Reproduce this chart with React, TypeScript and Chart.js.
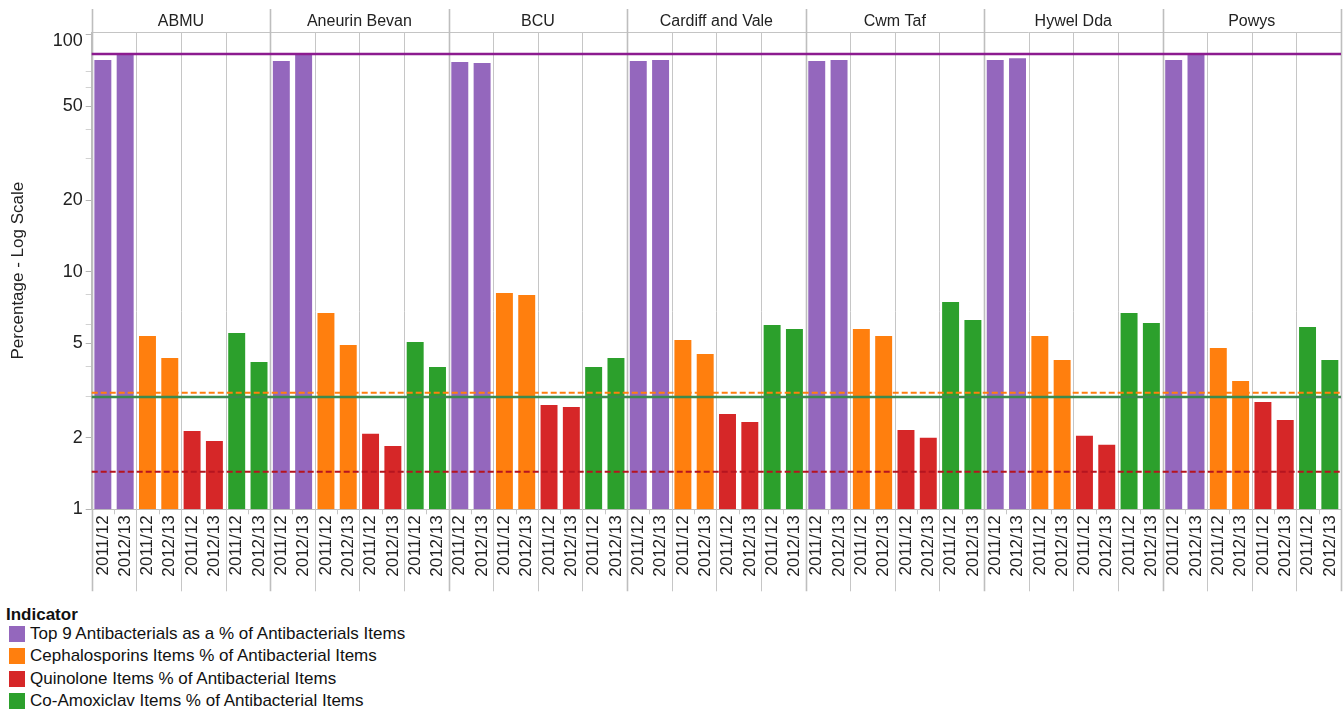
import React, { useEffect, useRef } from 'react';
import { Chart, registerables } from 'chart.js';

Chart.register(...registerables);

const FONT = '"Liberation Sans", Arial, Helvetica, sans-serif';
Chart.defaults.font.family = FONT;

// Health boards (panels) and financial years (bars within each indicator)
const boards = ['ABMU', 'Aneurin Bevan', 'BCU', 'Cardiff and Vale', 'Cwm Taf', 'Hywel Dda', 'Powys'];
const years = ['2011/12', '2012/13'];
const indicators = [
  'Top 9 Antibacterials as a % of Antibacterials Items',
  'Cephalosporins Items % of Antibacterial Items',
  'Quinolone Items % of Antibacterial Items',
  'Co-Amoxiclav Items % of Antibacterial Items',
];

// Values per board, in the order of `boards`
const top9_2011 = [78.2, 77.5, 76.7, 77.5, 77.5, 78.2, 78.2];
const top9_2012 = [82.6, 82.7, 76.0, 78.2, 78.2, 79.6, 82.7];
const cephalosporins_2011 = [5.37, 6.72, 8.15, 5.17, 5.75, 5.37, 4.78];
const cephalosporins_2012 = [4.34, 4.92, 8.0, 4.51, 5.37, 4.26, 3.47];
const quinolone_2011 = [2.14, 2.08, 2.75, 2.52, 2.16, 2.04, 2.83];
const quinolone_2012 = [1.94, 1.85, 2.7, 2.33, 2.0, 1.87, 2.38];
const coAmoxiclav_2011 = [5.53, 5.07, 3.98, 5.98, 7.47, 6.72, 5.86];
const coAmoxiclav_2012 = [4.18, 3.98, 4.34, 5.75, 6.28, 6.1, 4.26];

// All-Wales reference values, one per indicator
const referenceValues = [82.8, 3.1, 2.97, 1.44];

// Log axis ticks: all tick marks, and the ones that carry a label
const yTickValues = [1, 2, 3, 4, 5, 6, 8, 10, 20, 30, 40, 50, 60, 70, 100];
const yTickLabels = [1, 2, 5, 10, 20, 50, 100];

const seriesByIndicator = [
  [top9_2011, top9_2012],
  [cephalosporins_2011, cephalosporins_2012],
  [quinolone_2011, quinolone_2012],
  [coAmoxiclav_2011, coAmoxiclav_2012],
];

const barColors = ['#9467BD', '#FF7F0E', '#D62728', '#2CA02C'];
const referenceStyles = [
  { color: '#8C1B8F', width: 2.5, dash: [] as number[] },
  { color: '#FF7F0E', width: 2, dash: [6, 3] },
  { color: '#3B8A4E', width: 2.5, dash: [] as number[] },
  { color: '#B5141F', width: 2, dash: [6, 3] },
];

const slotsPerBoard = indicators.length * years.length;
const categoryLabels = boards.flatMap(() => indicators.flatMap(() => years));
const topTick = yTickLabels[yTickLabels.length - 1];

const datasets = indicators.map((name, k) => ({
  label: name,
  xAxisID: 'x',
  yAxisID: 'y',
  backgroundColor: barColors[k],
  borderWidth: 0,
  data: boards.flatMap((_, b) =>
    indicators.flatMap((_, i) => years.map((_, yr) => (i === k ? seriesByIndicator[k][yr][b] : null)))
  ),
}));

// Panel dividers, indicator separators, year ticks and header rules
const panelLines = {
  id: 'panelLines',
  beforeDatasetsDraw(chart: any) {
    const { ctx, chartArea } = chart;
    const { top, bottom, left, right } = chartArea;
    const xs = chart.scales.x;
    const n = categoryLabels.length;
    const snap = (v: number) => Math.round(v) + 0.5;
    ctx.save();
    ctx.lineWidth = 1;
    ctx.strokeStyle = '#c4c4c4';
    ctx.beginPath();
    ctx.moveTo(left, snap(top));
    ctx.lineTo(right, snap(top));
    ctx.stroke();
    for (let i = 0; i <= n; i++) {
      const px = snap(xs.getPixelForValue(i - 0.5));
      ctx.beginPath();
      if (i % slotsPerBoard === 0) {
        ctx.strokeStyle = '#bebebe';
        ctx.lineWidth = 1.6;
        ctx.moveTo(px, 9);
        ctx.lineTo(px, bottom + 82);
      } else if (i % years.length === 0) {
        ctx.strokeStyle = '#c6c6c6';
        ctx.lineWidth = 1;
        ctx.moveTo(px, top);
        ctx.lineTo(px, bottom + 82);
      } else {
        ctx.strokeStyle = '#c6c6c6';
        ctx.lineWidth = 1;
        ctx.moveTo(px, bottom);
        ctx.lineTo(px, bottom + 5);
      }
      ctx.stroke();
    }
    ctx.restore();
  },
};

// All-Wales reference lines drawn across every panel
const referenceLines = {
  id: 'referenceLines',
  afterDatasetsDraw(chart: any) {
    const { ctx, chartArea } = chart;
    const ys = chart.scales.y;
    ctx.save();
    referenceValues.forEach((v, k) => {
      const st = referenceStyles[k];
      const py = ys.getPixelForValue(v);
      ctx.beginPath();
      ctx.strokeStyle = st.color;
      ctx.lineWidth = st.width;
      ctx.setLineDash(st.dash);
      ctx.moveTo(chartArea.left, py);
      ctx.lineTo(chartArea.right, py);
      ctx.stroke();
    });
    ctx.restore();
  },
};

function IndicatorChart() {
  const canvasRef = useRef<HTMLCanvasElement | null>(null);

  useEffect(() => {
    if (!canvasRef.current) return;
    const chart = new Chart(canvasRef.current, {
      type: 'bar',
      data: { labels: categoryLabels, datasets: datasets as any },
      plugins: [panelLines, referenceLines],
      options: {
        animation: false,
        responsive: true,
        maintainAspectRatio: false,
        layout: { padding: { left: 0, right: 3, top: 0, bottom: 0 } },
        datasets: {
          bar: { barPercentage: 0.76, categoryPercentage: 1, skipNull: true },
        },
        plugins: {
          legend: { display: false },
          tooltip: { enabled: false },
        },
        scales: {
          x: {
            type: 'category',
            offset: true,
            afterFit: (s: any) => {
              s.height = 90.7;
              s.paddingLeft = 0;
              s.paddingRight = 0;
            },
            grid: { display: false, drawTicks: false },
            border: { display: true, color: '#bdbdbd' },
            ticks: {
              autoSkip: false,
              maxRotation: 90,
              minRotation: 90,
              padding: 6,
              color: '#222',
              font: { size: 17 },
            },
          },
          x2: {
            type: 'linear',
            position: 'top',
            offset: false,
            bounds: 'data',
            min: -0.5,
            max: categoryLabels.length - 0.5,
            afterBuildTicks: (s: any) => {
              s.ticks = boards.map((_, i) => ({ value: i * slotsPerBoard + (slotsPerBoard - 1) / 2 }));
            },
            afterFit: (s: any) => {
              s.height = 32;
              s.paddingLeft = 0;
              s.paddingRight = 0;
            },
            grid: { display: false, drawTicks: false, offset: false },
            border: { display: false },
            ticks: {
              autoSkip: false,
              maxRotation: 0,
              minRotation: 0,
              padding: 1,
              color: '#222',
              font: { size: 16 },
              callback: (_v: any, i: number) => boards[i],
            },
          },
          y: {
            type: 'logarithmic',
            min: 1,
            max: 102.6,
            afterBuildTicks: (s: any) => {
              s.ticks = yTickValues.map((v) => ({ value: v }));
            },
            afterFit: (s: any) => {
              s.width = 91.7;
              s.paddingTop = 0;
              s.paddingBottom = 0;
            },
            grid: {
              drawOnChartArea: false,
              drawTicks: true,
              tickLength: 6,
              tickColor: (ctx: any) =>
                ctx.tick && yTickLabels.includes(ctx.tick.value) ? '#b4b4b4' : '#d2d2d2',
            },
            border: { display: true, color: '#bdbdbd' },
            ticks: {
              autoSkip: false,
              padding: 3,
              color: '#222',
              // the top label sits just below its tick so it stays inside the plot
              font: (ctx: any) =>
                ctx.tick && ctx.tick.value === topTick
                  ? { size: 18, lineHeight: '13px' }
                  : { size: 18 },
              callback: (v: any) => {
                const n = Number(v);
                if (n === topTick) return ['', String(n)];
                return yTickLabels.includes(n) ? String(n) : '';
              },
            },
            title: {
              display: true,
              text: 'Percentage - Log Scale',
              color: '#222',
              font: { size: 17 },
              padding: { top: 8, bottom: 0 },
            },
          },
        } as any,
      },
    });
    return () => chart.destroy();
  }, []);

  return (
    <div style={{ position: 'relative', width: 1344, height: 600 }}>
      <canvas ref={canvasRef} />
    </div>
  );
}

function Legend() {
  return (
    <>
      <div
        style={{
          position: 'absolute',
          left: 6,
          top: 606.8,
          font: `bold 17px ${FONT}`,
          lineHeight: '16px',
          color: '#111',
          whiteSpace: 'nowrap',
        }}
      >
        Indicator
      </div>
      {indicators.map((name, i) => (
        <div
          key={name}
          style={{
            position: 'absolute',
            left: 9,
            top: 626 + i * 22.3,
            height: 16,
            display: 'flex',
            alignItems: 'center',
          }}
        >
          <span style={{ display: 'inline-block', width: 16, height: 16, background: barColors[i] }} />
          <span
            style={{
              marginLeft: 5,
              font: `17px ${FONT}`,
              lineHeight: '16px',
              color: '#111',
              whiteSpace: 'nowrap',
            }}
          >
            {name}
          </span>
        </div>
      ))}
    </>
  );
}

export default function App() {
  return (
    <div
      style={{
        position: 'absolute',
        left: 0,
        top: 0,
        width: 1344,
        height: 711,
        background: '#fff',
        overflow: 'hidden',
      }}
    >
      <IndicatorChart />
      <Legend />
    </div>
  );
}
